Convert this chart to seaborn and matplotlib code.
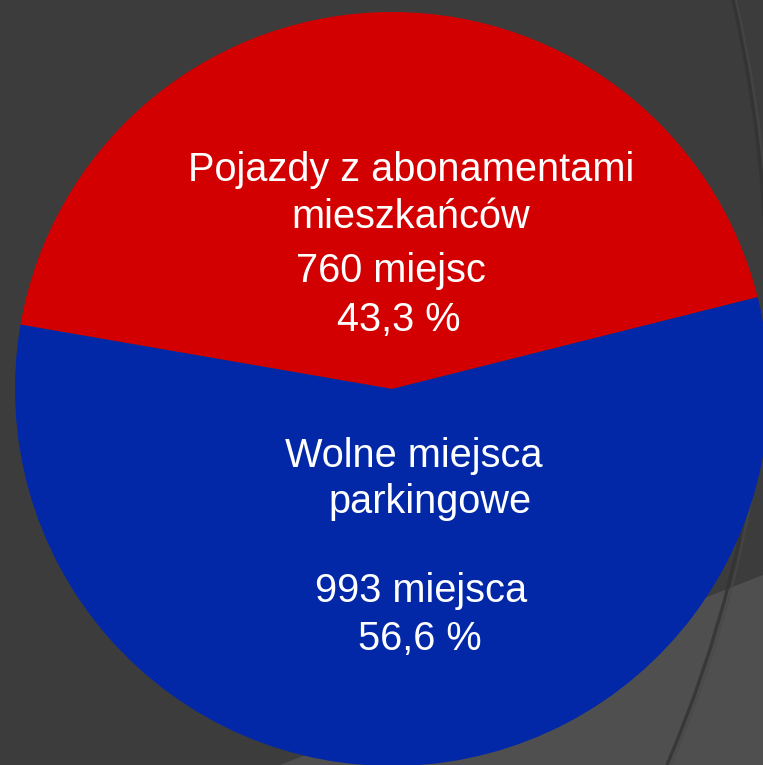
import numpy as np
import matplotlib
matplotlib.use("Agg")
import matplotlib.pyplot as plt
from matplotlib.path import Path
from matplotlib.patches import PathPatch, Polygon
import seaborn as sns

# --- DATA ---
categories = ["Pojazdy z abonamentami\nmieszkańców", "Wolne miejsca\nparkingowe"]
spaces = [760, 993]
units = ["miejsc", "miejsca"]
shares = ["43,3 %", "56,6 %"]
colors = ["#d20000", "#0228a8"]

W, H = 763, 765
BG = "#3c3c3c"

sns.set_theme(style="dark")
plt.rcParams['font.family'] = ['Liberation Sans', 'DejaVu Sans']

fig = plt.figure(figsize=(W / 100, H / 100), dpi=100, facecolor=BG)

# background decoration (pixel coords)
bg = fig.add_axes([0, 0, 1, 1], zorder=0)
bg.set_xlim(0, W)
bg.set_ylim(H, 0)
bg.axis('off')
bg.set_facecolor(BG)
bg.add_patch(Polygon([(280, H), (W, 575), (W, H)], closed=True, facecolor="#4f4f4f", edgecolor="none"))
arc = Path([(733, 0), (824, 398), (667, H)], [Path.MOVETO, Path.CURVE3, Path.CURVE3])
bg.add_patch(PathPatch(arc, facecolor="none", edgecolor="#333333", lw=2.5, alpha=0.8))
arc2 = Path([(736, 0), (828, 398), (671, H)], [Path.MOVETO, Path.CURVE3, Path.CURVE3])
bg.add_patch(PathPatch(arc2, facecolor="none", edgecolor="#484848", lw=1.5, alpha=0.7))

# pie: center at pixel (392, 389), radius 377 px
cx, cy, r = 392, 389, 377
ax = fig.add_axes([0, 0, 1, 1], zorder=1)
ax.patch.set_alpha(0)
ax.pie(spaces, colors=colors, startangle=14.1, counterclock=True,
       wedgeprops=dict(linewidth=0, antialiased=True))
ax.set_xlim(-cx / r, (W - cx) / r)
ax.set_ylim(-(H - cy) / r, cy / r)
ax.set_aspect('auto')
ax.axis('off')

# labels (centre x, baseline y in pixels)
label_pos = [
    [(411, 181), (411, 228), (391, 282), (399, 331)],
    [(414, 467), (430, 513), (421, 602), (420, 650)],
]
for i, cat in enumerate(categories):
    lines = cat.split("\n") + [f"{spaces[i]} {units[i]}", shares[i]]
    for txt, (px, py) in zip(lines, label_pos[i]):
        fig.text(px / W, 1 - py / H, txt, ha='center', va='baseline',
                 color='white', fontsize=28.6, zorder=5)

fig.savefig("out.png", dpi=100, facecolor=BG)
